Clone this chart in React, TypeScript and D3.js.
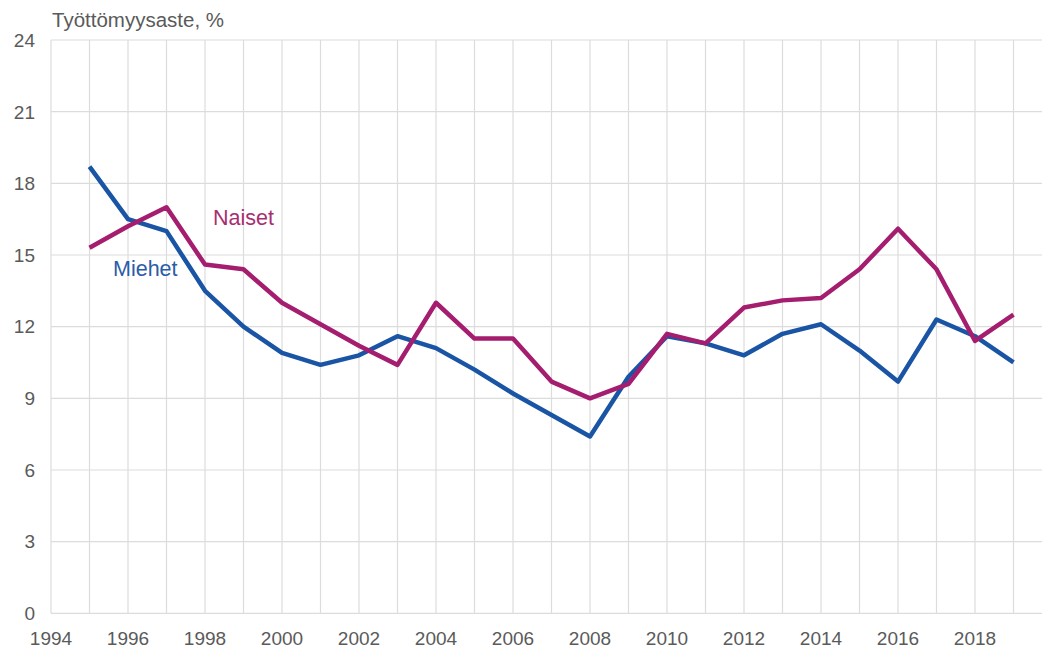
import * as d3 from "d3";

// unemployment rate by year (%)
const years = [1995, 1996, 1997, 1998, 1999, 2000, 2001, 2002, 2003, 2004, 2005, 2006, 2007, 2008, 2009, 2010, 2011, 2012, 2013, 2014, 2015, 2016, 2017, 2018, 2019];
const miehet = [18.7, 16.5, 16.0, 13.5, 12.0, 10.9, 10.4, 10.8, 11.6, 11.1, 10.2, 9.2, 8.3, 7.4, 9.9, 11.6, 11.3, 10.8, 11.7, 12.1, 11.0, 9.7, 12.3, 11.6, 10.5];
const naiset = [15.3, 16.2, 17.0, 14.6, 14.4, 13.0, 12.1, 11.2, 10.4, 13.0, 11.5, 11.5, 9.7, 9.0, 9.6, 11.7, 11.3, 12.8, 13.1, 13.2, 14.4, 16.1, 14.4, 11.4, 12.5];
const yTicks = [0, 3, 6, 9, 12, 15, 18, 21, 24];
const xTickLabels = [1994, 1996, 1998, 2000, 2002, 2004, 2006, 2008, 2010, 2012, 2014, 2016, 2018];
const gridYears = d3.range(1994, 2021);

const W = 1042;
const H = 650;
const font = "'Liberation Sans', Arial, sans-serif";

export default function App() {
  // the plot runs off the right edge, like in the source
  const x = d3.scaleLinear().domain([1994, 2020]).range([51, 1052]);
  const y = d3.scaleLinear().domain([0, 24]).range([613.3, 40]);

  const line = (vals: number[]) =>
    d3
      .line<number>()
      .x((d, i) => x(years[i]))
      .y((d) => y(d))(vals) || "";

  return (
    <svg
      width={W}
      height={H}
      style={{ position: "absolute", left: 0, top: 0, background: "#fff" }}
      fontFamily={font}
    >
      {/* grid */}
      <g stroke="#dcdcdc" strokeWidth={1.2}>
        {gridYears.map((yr) => (
          <line key={"v" + yr} x1={x(yr)} x2={x(yr)} y1={y(24)} y2={y(0)} />
        ))}
        {yTicks.map((t) => (
          <line key={"h" + t} x1={x(1994)} x2={W} y1={y(t)} y2={y(t)} />
        ))}
      </g>

      {/* y labels */}
      <g fill="#5a5a5a" fontSize={19} textAnchor="end">
        {yTicks.map((t) => (
          <text key={t} x={35} y={y(t)} dy="0.36em">
            {t}
          </text>
        ))}
      </g>

      {/* x labels */}
      <g fill="#5a5a5a" fontSize={19} textAnchor="middle">
        {xTickLabels.map((yr) => (
          <text key={yr} x={x(yr)} y={645}>
            {yr}
          </text>
        ))}
      </g>

      <text x={52} y={27} fill="#5a5a5a" fontSize={20.5}>
        Työttömyysaste, %
      </text>

      {/* series */}
      <path d={line(miehet)} fill="none" stroke="#1a55a5" strokeWidth={4.5} strokeLinejoin="round" />
      <path d={line(naiset)} fill="none" stroke="#a51d6e" strokeWidth={4.5} strokeLinejoin="round" />

      <text x={213} y={225} fill="#a62f72" fontSize={21.5}>
        Naiset
      </text>
      <text x={113} y={276} fill="#2a5ca8" fontSize={21.5}>
        Miehet
      </text>
    </svg>
  );
}
